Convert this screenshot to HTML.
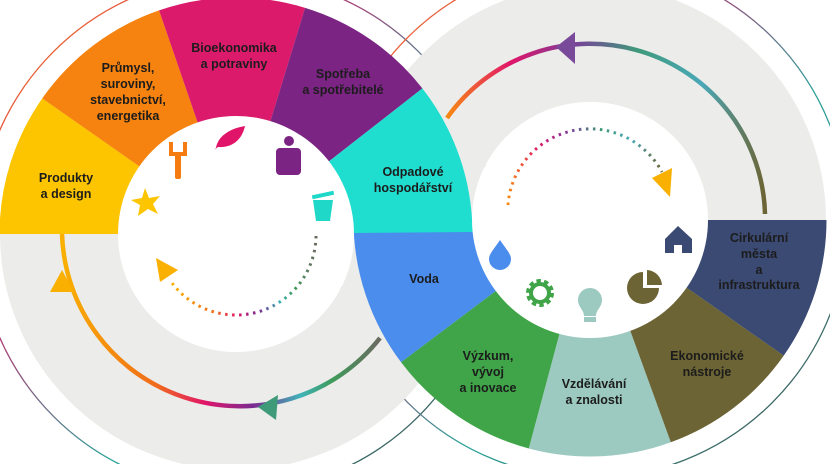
<!DOCTYPE html>
<html><head><meta charset="utf-8"><style>
html,body{margin:0;padding:0;background:#fff;overflow:hidden;}
svg{display:block;}
text{font-family:"Liberation Sans",sans-serif;font-weight:bold;font-size:12.5px;fill:#1c1c1c;text-anchor:middle;}
</style></head><body>
<svg width="830" height="464" viewBox="0 0 830 464" xmlns="http://www.w3.org/2000/svg">
<defs>
<linearGradient id="gl" x1="0" y1="0" x2="1" y2="0">
<stop offset="0" stop-color="#f9b000"/><stop offset="0.3" stop-color="#f06a1c"/><stop offset="0.45" stop-color="#e0156a"/><stop offset="0.6" stop-color="#7a2a90"/><stop offset="0.75" stop-color="#3fb3b8"/><stop offset="0.85" stop-color="#3f9a5a"/><stop offset="1" stop-color="#6a6a60"/>
</linearGradient>
<linearGradient id="gr" x1="0" y1="0" x2="1" y2="0">
<stop offset="0" stop-color="#f78a12"/><stop offset="0.2" stop-color="#e0156a"/><stop offset="0.4" stop-color="#7a3f99"/><stop offset="0.6" stop-color="#3f9a7a"/><stop offset="0.8" stop-color="#4aa8b8"/><stop offset="1" stop-color="#6c6434"/>
</linearGradient>
<linearGradient id="gt" x1="0" y1="0" x2="1" y2="1">
<stop offset="0" stop-color="#f7a000"/><stop offset="0.3" stop-color="#d81b6b"/><stop offset="0.6" stop-color="#2aa39a"/><stop offset="1" stop-color="#444"/>
</linearGradient>
</defs>
<circle cx="236" cy="234" r="258" fill="none" stroke="url(#gt)" stroke-width="1.3"/>
<circle cx="590" cy="220" r="258" fill="none" stroke="url(#gt)" stroke-width="1.3"/>
<circle cx="236" cy="234" r="177" fill="none" stroke="#ececea" stroke-width="118"/>
<circle cx="590" cy="220" r="177" fill="none" stroke="#ececea" stroke-width="118"/>
<g fill="none" stroke-width="119">
<circle cx="590" cy="220" r="177" pathLength="360" stroke="#4a8ded" stroke-dasharray="38 322" stroke-dashoffset="-143"/>
<circle cx="590" cy="220" r="177" pathLength="360" stroke="#3fa548" stroke-dasharray="38 322" stroke-dashoffset="-105"/>
<circle cx="590" cy="220" r="177" pathLength="360" stroke="#9ccac0" stroke-dasharray="35 325" stroke-dashoffset="-70"/>
<circle cx="590" cy="220" r="177" pathLength="360" stroke="#6c6434" stroke-dasharray="35 325" stroke-dashoffset="-35"/>
<circle cx="590" cy="220" r="177" pathLength="360" stroke="#3b4a73" stroke-dasharray="35 325" stroke-dashoffset="0"/>
</g>
<g fill="none" stroke-width="119">
<circle cx="236" cy="234" r="177" pathLength="360" stroke="#fdc500" stroke-dasharray="35 325" stroke-dashoffset="-180"/>
<circle cx="236" cy="234" r="177" pathLength="360" stroke="#f6820f" stroke-dasharray="36 324" stroke-dashoffset="-215"/>
<circle cx="236" cy="234" r="177" pathLength="360" stroke="#dc1a6c" stroke-dasharray="36 324" stroke-dashoffset="-251"/>
<circle cx="236" cy="234" r="177" pathLength="360" stroke="#7b2483" stroke-dasharray="35 325" stroke-dashoffset="-287"/>
<circle cx="236" cy="234" r="177" pathLength="360" stroke="#1fded0" stroke-dasharray="37.5 322.5" stroke-dashoffset="-322"/>
</g>
<circle cx="236" cy="234" r="118" fill="#fff"/>
<circle cx="590" cy="220" r="118" fill="#fff"/>
<path d="M62 234 A178 178 0 0 0 380 338" fill="none" stroke="url(#gl)" stroke-width="4.5"/>
<polygon points="62,270 50,292 74,292" fill="#f9b000"/>
<polygon points="258,407 278,395 276,420" fill="#3f9a7a"/>
<path d="M447 118 A175 175 0 0 1 765 214" fill="none" stroke="url(#gr)" stroke-width="4.5"/>
<polygon points="556,47 575,32 575,64" fill="#7a4a9a"/>
<path d="M316 236 A80 80 0 0 1 172 283" fill="none" stroke="url(#gl)" stroke-width="3" stroke-dasharray="2.5 4.5"/>
<polygon points="156,258 178,270 160,282" fill="#f9b000"/>
<path d="M508 205 A82 82 0 0 1 662 172" fill="none" stroke="url(#gr)" stroke-width="3" stroke-dasharray="2.5 4.5"/>
<polygon points="652,178 672,168 670,197" fill="#f9b000"/>
<g fill="#f47c10"><rect x="175" y="153" width="6" height="26" rx="2"/><path d="M169 142 L173 142 L173 152 L183 152 L183 142 L187 142 L187 156 L169 156 Z"/></g>
<path d="M216 148 C218 135 232 128 245 126 C242 140 232 148 218 147 L214 150 Z" fill="#e0156a"/>
<g fill="#7b2483"><circle cx="289" cy="141" r="5"/><rect x="276" y="148" width="25" height="27" rx="4"/></g>
<g fill="#1fd8c8"><polygon points="313,200 333,200 330,221 316,221"/><rect x="312" y="193" width="22" height="4" transform="rotate(-12 323 195)"/></g>
<polygon points="145,188 149,198 160,196 153,204 158,214 148,209 138,216 140,205 131,200 142,198" fill="#fdc500"/>
<path d="M500 240 C494 249 489 254 489 259 A11 11 0 0 0 511 259 C511 254 506 249 500 240 Z" fill="#4a8ded"/>
<circle cx="540" cy="293" r="11" fill="none" stroke="#3fa548" stroke-width="6" stroke-dasharray="4 2.9"/>
<circle cx="540" cy="293" r="9" fill="none" stroke="#3fa548" stroke-width="4"/>
<path d="M590 288 A12 12 0 0 1 602 300 C602 307 596 310 596 316 L584 316 C584 310 578 307 578 300 A12 12 0 0 1 590 288 Z" fill="#9ccac0"/>
<rect x="584" y="317" width="12" height="5" fill="#9ccac0"/>
<path d="M643 272 L643 288 L659 288 A16 16 0 1 1 643 272 Z" fill="#6c6434"/>
<path d="M647 270 A16 16 0 0 1 662 285 L647 285 Z" fill="#6c6434"/>
<path d="M678 226 L692 239 L692 253 L682 253 L682 245 L674 245 L674 253 L665 253 L665 239 Z" fill="#3b4a73"/>
<text x="234" y="52">Bioekonomika</text><text x="234" y="68">a potraviny</text>
<text x="128" y="72">Průmysl,</text><text x="128" y="88">suroviny,</text><text x="128" y="104">stavebnictví,</text><text x="128" y="120">energetika</text>
<text x="343" y="78">Spotřeba</text><text x="343" y="94">a spotřebitelé</text>
<text x="66" y="182">Produkty</text><text x="66" y="198">a design</text>
<text x="413" y="176">Odpadové</text><text x="413" y="192">hospodářství</text>
<text x="424" y="283">Voda</text>
<text x="759" y="242">Cirkulární</text><text x="759" y="258">města</text><text x="759" y="274">a</text><text x="759" y="289">infrastruktura</text>
<text x="707" y="360">Ekonomické</text><text x="707" y="376">nástroje</text>
<text x="594" y="388">Vzdělávání</text><text x="594" y="404">a znalosti</text>
<text x="488" y="360">Výzkum,</text><text x="488" y="376">vývoj</text><text x="488" y="392">a inovace</text>
</svg>
</body></html>
